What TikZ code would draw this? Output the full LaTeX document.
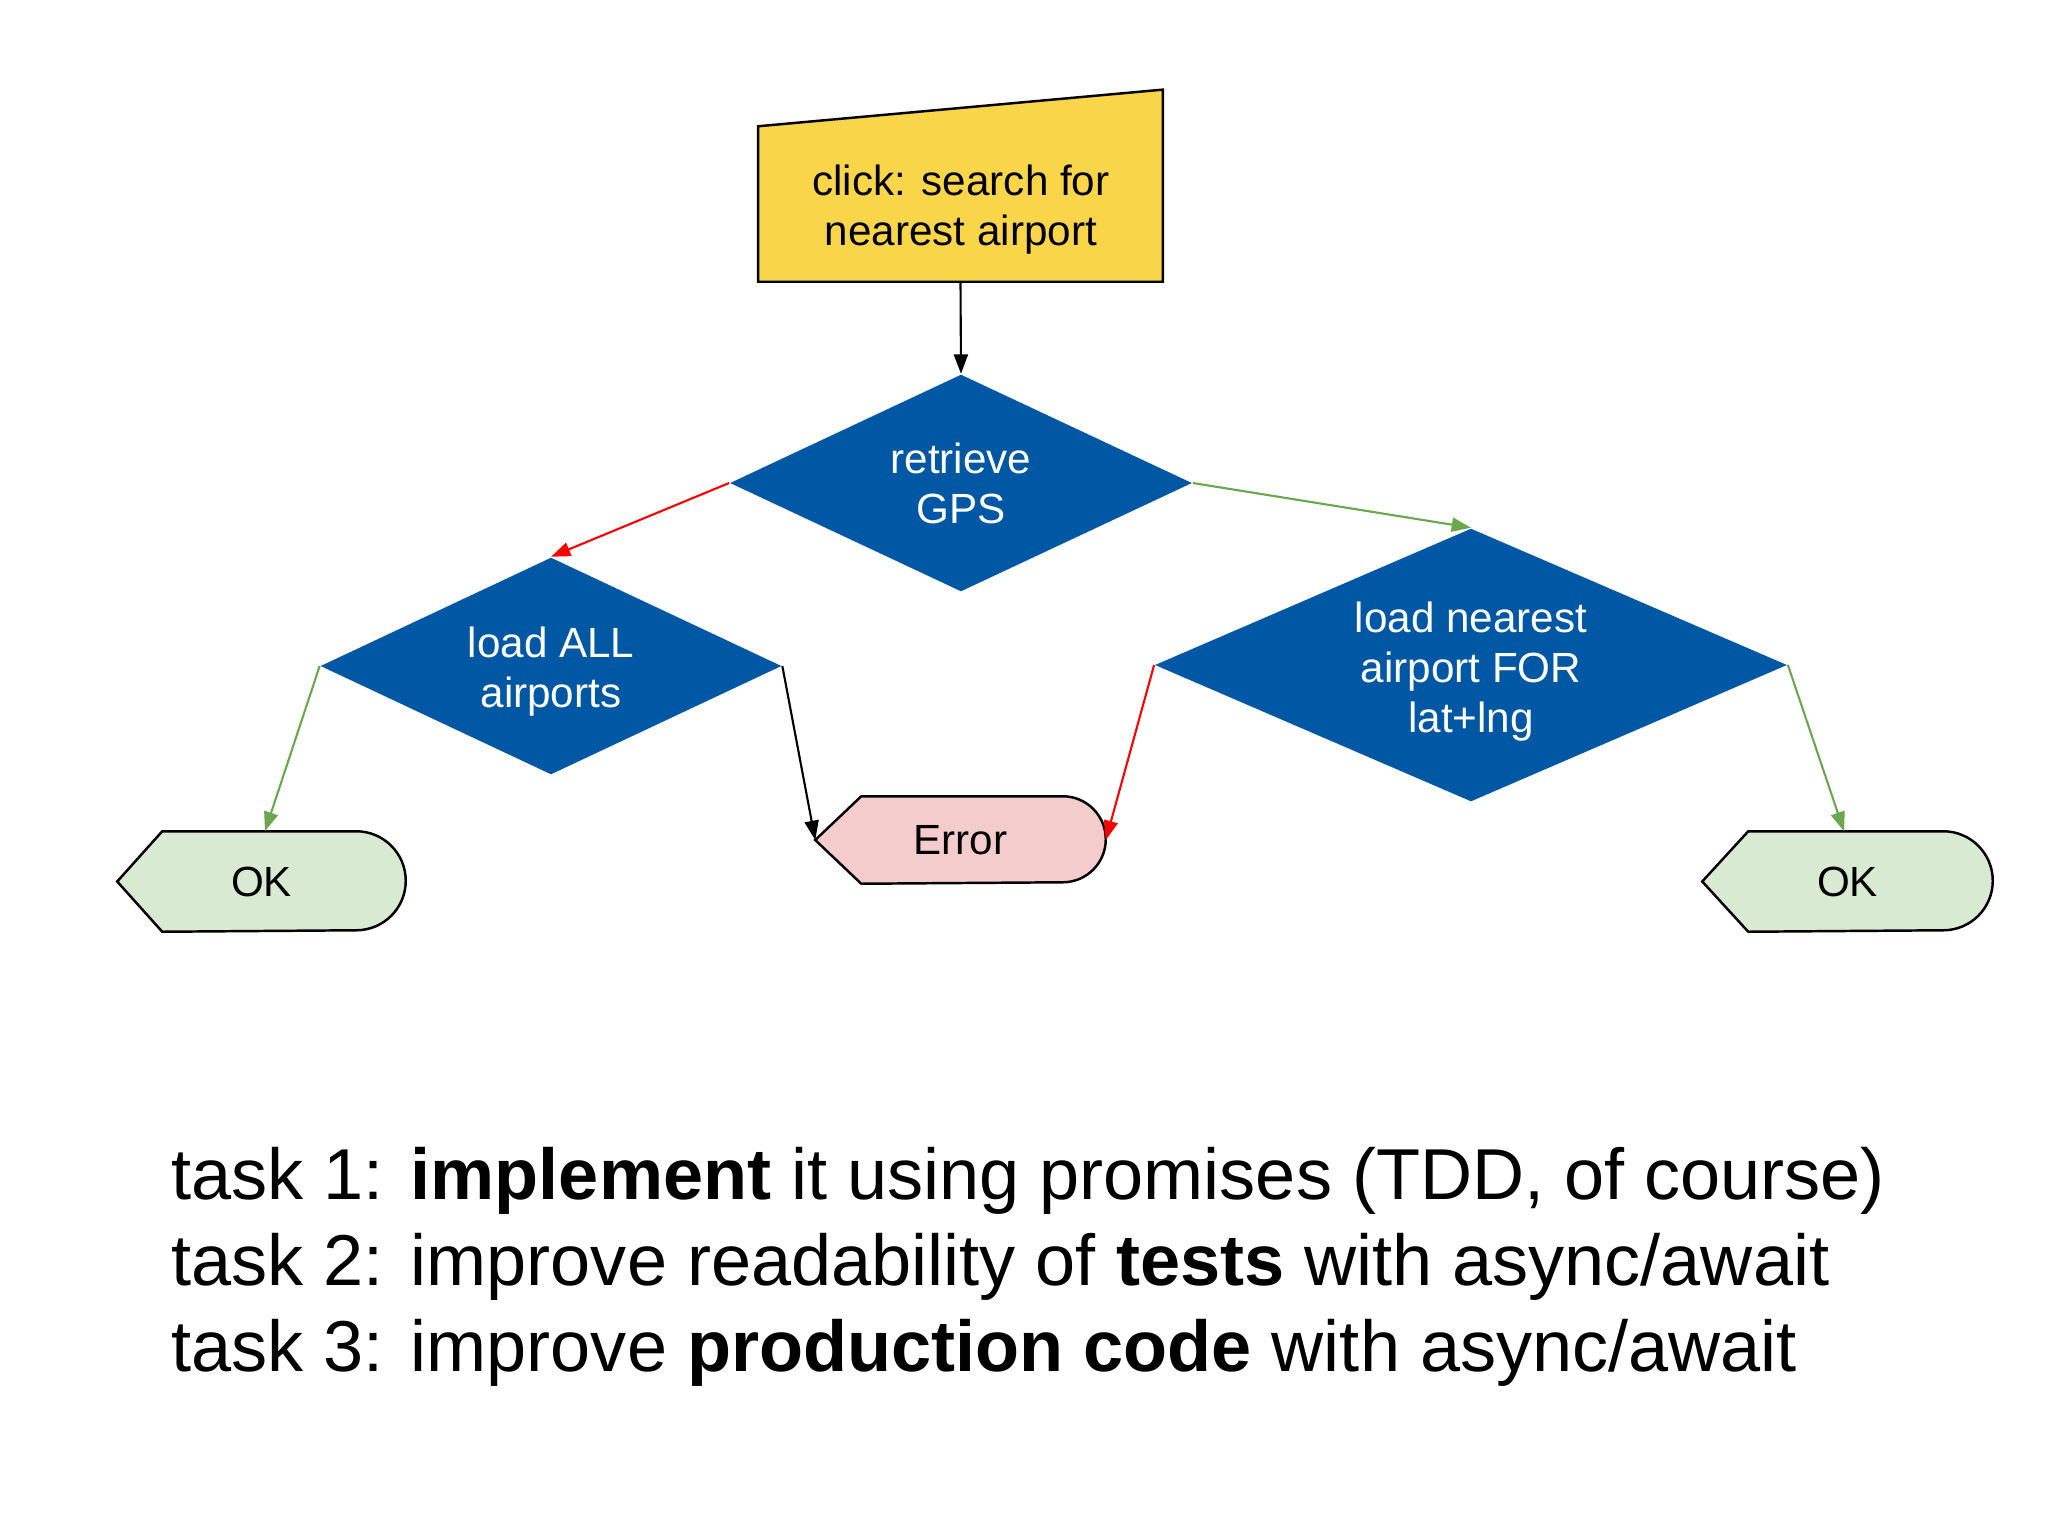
\documentclass[tikz,border=0pt]{standalone}
\usepackage{fontspec}
\setmainfont{Liberation Sans}
\usetikzlibrary{shapes.geometric,arrows.meta,calc,backgrounds}
\definecolor{yel}{HTML}{F9D549}
\definecolor{dblue}{HTML}{0058A5}
\definecolor{pinkf}{HTML}{F4CCCC}
\definecolor{greenf}{HTML}{D9EAD3}
\definecolor{gline}{HTML}{6AA84F}
\definecolor{rline}{HTML}{FF0000}
\begin{document}
\begin{tikzpicture}[x=0.01cm,y=0.01cm,
  lbl/.style={font=\fontsize{12}{14.2}\selectfont, align=center, inner sep=0pt},
  dec/.style={diamond, fill=dblue, text=white, lbl},
  dtxt/.style={lbl, text=white},
  arr/.style={-{Triangle[length=5.5pt,width=4pt]}, line width=0.6pt},
  outl/.style={draw=black, line width=0.7pt},
  task/.style={anchor=base west, inner sep=0pt, font=\fontsize{20.5}{24.5}\selectfont}]
\useasboundingbox (0,0) rectangle (2048,-1536);

% start (manual input)
\node[lbl, minimum width=4.03cm, minimum height=1.52cm] (s) at (960.5,-205) {};
\node[lbl] (stxt) at (961,-210) {click: search for\\nearest airport};

% decisions
\node[dec, aspect=2.13, minimum width=4.62cm, minimum height=2.17cm] (d1) at (961,-483) {retrieve\\GPS};
\node[dec, aspect=2.12, minimum width=4.61cm, minimum height=2.17cm] (d2) at (551,-666) {};
\node[dtxt] (d2t) at (551,-672) {load ALL\\airports};
\node[dec, aspect=2.31, minimum width=6.32cm, minimum height=2.73cm] (d3) at (1471,-665) {};
\node[dtxt] (d3t) at (1471,-672) {load nearest\\airport FOR\\lat+lng};

% terminals
\node[lbl, minimum width=2.87cm, minimum height=0.99cm] (ok1) at (261.5,-881.5) {OK};
\node[lbl, minimum width=2.89cm, minimum height=0.86cm] (err) at (960.5,-840) {Error};
\node[lbl, minimum width=2.89cm, minimum height=0.99cm] (ok2) at (1847.5,-881.5) {OK};

\begin{pgfonlayer}{background}
  \draw[outl, fill=yel] (s.south west) -- (s.south east) -- ([yshift=1.92cm]s.south east)
        -- ([yshift=0.02cm]s.north west) -- cycle;
  \draw[outl, fill=greenf] (ok1.west) -- ([xshift=0.45cm]ok1.north west) -- ([xshift=-0.495cm]ok1.north east)
        arc[start angle=90, end angle=-90, radius=49.5] -- ([xshift=0.45cm]ok1.south west) -- cycle;
  \draw[outl, fill=pinkf] (err.west) -- ([xshift=0.46cm]err.north west) -- ([xshift=-0.43cm]err.north east)
        arc[start angle=90, end angle=-90, radius=43] -- ([xshift=0.46cm]err.south west) -- cycle;
  \draw[outl, fill=greenf] (ok2.west) -- ([xshift=0.46cm]ok2.north west) -- ([xshift=-0.495cm]ok2.north east)
        arc[start angle=90, end angle=-90, radius=49.5] -- ([xshift=0.46cm]ok2.south west) -- cycle;
\end{pgfonlayer}

% connectors
\draw[arr] (s.south) -- (d1.north);
\draw[arr, rline] (d1.west) -- (d2.north);
\draw[arr, gline] (d1.east) -- (d3.north);
\draw[arr, gline] (d2.west) -- ([xshift=0.035cm]ok1.north);
\draw[arr] (d2.east) -- (err.west);
\draw[arr, rline] (d3.west) -- (err.east);
\draw[arr, gline] (d3.east) -- ([xshift=-0.035cm]ok2.north);

% tasks
\node[task] (t1) at (171,-1199) {task 1: \textbf{implement} it using promises (TDD, of course)};
\node[task] (t2) at (171,-1285) {task 2: improve readability of \textbf{tests} with async/await};
\node[task] (t3) at (171,-1371) {task 3: improve \textbf{production code} with async/await};
\end{tikzpicture}
\end{document}
